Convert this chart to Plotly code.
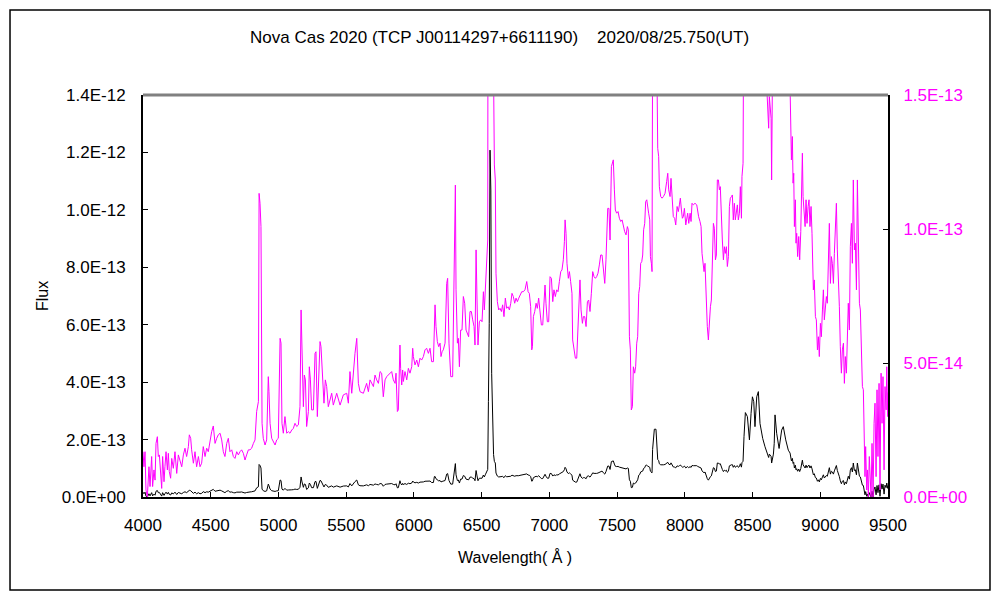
import plotly.graph_objects as go

# ---- data ----
# wavelength in Angstrom
wavelength = [
    4000, 4007, 4015, 4022, 4032, 4044, 4052, 4064, 4071, 4081, 4089, 4096, 4106, 4113, 4121, 4130,
    4138, 4145, 4155, 4162, 4170, 4180, 4187, 4194, 4204, 4212, 4224, 4236, 4249, 4261, 4273, 4286,
    4298, 4310, 4322, 4335, 4342, 4352, 4359, 4372, 4384, 4396, 4409, 4421, 4433, 4445, 4458, 4470,
    4482, 4495, 4507, 4519, 4532, 4544, 4556, 4569, 4581, 4593, 4605, 4618, 4630, 4642, 4655, 4667,
    4679, 4692, 4704, 4716, 4728, 4741, 4753, 4765, 4778, 4790, 4802, 4815, 4827, 4839, 4852, 4857,
    4864, 4871, 4879, 4888, 4901, 4913, 4925, 4930, 4938, 4950, 4962, 4975, 4987, 4999, 5012, 5019,
    5026, 5036, 5048, 5061, 5073, 5085, 5098, 5110, 5122, 5135, 5147, 5159, 5167, 5174, 5184, 5191,
    5199, 5208, 5221, 5228, 5236, 5245, 5258, 5270, 5277, 5287, 5307, 5314, 5324, 5336, 5346, 5356,
    5368, 5381, 5393, 5405, 5430, 5455, 5479, 5504, 5516, 5528, 5541, 5565, 5578, 5590, 5602, 5627,
    5651, 5664, 5676, 5701, 5713, 5725, 5738, 5750, 5762, 5774, 5787, 5799, 5811, 5824, 5836, 5848,
    5861, 5868, 5878, 5885, 5893, 5897, 5902, 5910, 5917, 5922, 5934, 5947, 5959, 5971, 5984, 5991,
    5996, 6008, 6021, 6033, 6045, 6057, 6070, 6082, 6094, 6107, 6119, 6131, 6144, 6151, 6156, 6163,
    6173, 6183, 6193, 6200, 6208, 6217, 6230, 6242, 6249, 6259, 6272, 6286, 6296, 6301, 6306, 6311,
    6321, 6328, 6336, 6345, 6355, 6365, 6375, 6385, 6395, 6404, 6414, 6424, 6434, 6444, 6451, 6459,
    6466, 6473, 6483, 6493, 6503, 6513, 6520, 6527, 6537, 6545, 6550, 6556, 6562, 6568, 6574, 6581,
    6588, 6594, 6601, 6606, 6616, 6626, 6636, 6646, 6655, 6665, 6675, 6685, 6695, 6705, 6715, 6724,
    6734, 6744, 6754, 6764, 6774, 6783, 6796, 6808, 6820, 6833, 6843, 6852, 6862, 6870, 6875, 6882,
    6892, 6902, 6911, 6921, 6931, 6941, 6951, 6961, 6968, 6975, 6985, 6995, 7005, 7015, 7025, 7034,
    7044, 7054, 7064, 7074, 7084, 7093, 7103, 7111, 7116, 7123, 7130, 7140, 7148, 7157, 7167, 7172,
    7182, 7192, 7202, 7212, 7219, 7226, 7234, 7244, 7251, 7261, 7271, 7281, 7290, 7300, 7310, 7320,
    7330, 7340, 7349, 7359, 7369, 7379, 7389, 7399, 7409, 7418, 7431, 7440, 7448, 7458, 7465, 7472,
    7480, 7487, 7497, 7507, 7517, 7527, 7537, 7546, 7556, 7566, 7576, 7583, 7591, 7598, 7605, 7613,
    7620, 7630, 7637, 7645, 7652, 7660, 7667, 7674, 7682, 7689, 7696, 7704, 7711, 7719, 7726, 7733,
    7741, 7746, 7753, 7758, 7762, 7768, 7775, 7787, 7795, 7800, 7807, 7812, 7822, 7832, 7842, 7854,
    7866, 7874, 7881, 7891, 7898, 7906, 7915, 7925, 7933, 7943, 7952, 7960, 7967, 7975, 7982, 7989,
    7997, 8007, 8014, 8021, 8029, 8039, 8046, 8053, 8063, 8075, 8088, 8095, 8102, 8112, 8120, 8127,
    8137, 8142, 8149, 8157, 8162, 8166, 8174, 8181, 8189, 8196, 8203, 8211, 8218, 8226, 8233, 8240,
    8248, 8255, 8262, 8270, 8277, 8285, 8292, 8299, 8307, 8314, 8322, 8329, 8336, 8344, 8351, 8358,
    8366, 8373, 8381, 8388, 8395, 8403, 8410, 8418, 8422, 8430, 8437, 8447, 8462, 8477, 8489, 8499,
    8509, 8518, 8531, 8543, 8555, 8575, 8592, 8604, 8612, 8619, 8624, 8629, 8637, 8641, 8649, 8654,
    8660, 8666, 8678, 8696, 8715, 8727, 8745, 8764, 8777, 8782, 8787, 8794, 8799, 8804, 8809, 8816,
    8821, 8826, 8833, 8841, 8848, 8856, 8863, 8868, 8873, 8880, 8888, 8895, 8902, 8910, 8917, 8924,
    8932, 8939, 8944, 8949, 8956, 8964, 8971, 8979, 8986, 8993, 9001, 9008, 9016, 9023, 9030, 9038,
    9045, 9052, 9060, 9067, 9075, 9082, 9089, 9097, 9104, 9111, 9119, 9126, 9134, 9141, 9148, 9156,
    9163, 9171, 9178, 9185, 9193, 9200, 9207, 9215, 9222, 9230, 9237, 9244, 9252, 9259, 9267, 9274,
    9281, 9289, 9296, 9303, 9311, 9318, 9323, 9330, 9335, 9343, 9348, 9355, 9362, 9370, 9375, 9382,
    9390, 9397, 9404, 9412, 9419, 9426, 9434, 9441, 9449, 9456, 9463, 9471, 9478, 9486, 9491, 9498,
    9500,
]

# flux in units of 1E-14 (same spectrum drawn on both axes)
flux_e14 = [
    1.69, 1.13, 1.69, 0.26, 0.00, 1.13, 0.39, 1.51, 0.39, 1.01, 0.63, 2.00, 2.25, 1.51, 1.57, 1.01,
    0.32, 1.51, 0.57, 1.13, 1.69, 1.01, 1.63, 0.95, 0.70, 1.44, 1.07, 1.69, 0.88, 1.57, 1.32, 1.13,
    1.57, 1.82, 1.51, 1.88, 2.32, 2.19, 1.76, 1.26, 1.69, 1.13, 1.51, 1.13, 1.26, 1.88, 1.51, 1.82,
    1.69, 2.13, 2.44, 2.65, 2.00, 2.19, 2.32, 2.38, 2.13, 1.69, 1.51, 2.00, 2.19, 1.69, 1.76, 1.51,
    1.44, 1.69, 1.57, 1.69, 1.76, 1.63, 1.38, 1.57, 1.76, 1.76, 1.82, 2.00, 2.13, 3.19, 3.56, 11.33,
    10.96, 10.09, 2.75, 2.19, 1.94, 2.13, 4.49, 3.93, 2.75, 2.19, 2.07, 1.94, 2.13, 2.19, 5.92, 5.74,
    2.75, 2.38, 3.00, 2.38, 2.44, 2.38, 2.50, 2.56, 2.75, 2.63, 2.69, 3.37, 6.98, 5.24, 3.37, 4.55,
    4.37, 2.63, 3.19, 4.86, 4.37, 3.25, 3.25, 5.36, 5.42, 3.00, 5.80, 5.61, 4.37, 3.50, 4.37, 4.12,
    3.37, 3.62, 3.87, 3.43, 3.87, 3.43, 3.81, 3.87, 3.50, 4.68, 3.87, 5.36, 5.92, 4.24, 3.93, 3.87,
    4.24, 3.93, 4.37, 4.12, 4.55, 4.37, 4.24, 4.68, 4.62, 3.74, 4.37, 4.49, 4.55, 4.62, 4.68, 4.37,
    4.24, 4.62, 3.19, 3.25, 5.61, 5.67, 4.80, 4.18, 4.74, 4.31, 4.68, 4.37, 4.80, 4.62, 4.86, 5.55,
    5.24, 4.93, 5.11, 4.86, 5.18, 5.11, 5.24, 5.49, 5.55, 5.36, 5.55, 5.05, 5.05, 7.10, 7.17, 6.36,
    5.80, 5.61, 5.74, 5.24, 5.42, 5.49, 5.74, 7.97, 8.16, 5.74, 4.49, 4.49, 8.47, 9.53, 11.64, 7.73,
    5.74, 5.92, 4.86, 6.23, 6.23, 7.48, 7.23, 6.23, 6.05, 5.98, 6.92, 6.92, 6.61, 6.36, 5.67, 9.22,
    7.35, 5.67, 6.54, 6.61, 6.54, 7.66, 6.98, 7.73, 8.72, 9.59, 33.2, 60.5, 120.8, 106.9, 43.1, 19.9,
    14.8, 12.39, 11.83, 8.35, 7.29, 6.98, 7.04, 6.92, 7.17, 6.73, 7.42, 7.04, 7.10, 6.98, 7.23, 7.60,
    7.48, 7.23, 7.42, 7.29, 7.42, 7.54, 7.66, 7.66, 7.73, 8.04, 7.66, 7.60, 7.10, 5.49, 5.61, 6.73,
    6.92, 7.23, 7.04, 7.42, 6.92, 6.42, 6.42, 7.23, 7.91, 7.23, 6.54, 6.54, 8.22, 8.16, 7.29, 7.73,
    7.48, 7.73, 7.66, 8.04, 8.41, 8.47, 8.85, 9.53, 10.34, 9.84, 8.72, 8.16, 8.41, 8.04, 7.60, 5.86,
    5.49, 5.18, 5.18, 6.48, 7.73, 8.10, 6.98, 6.48, 6.73, 6.73, 6.36, 7.29, 7.35, 6.92, 7.60, 8.41,
    8.22, 8.16, 8.22, 8.35, 8.66, 9.03, 9.03, 8.41, 7.97, 8.85, 10.77, 10.77, 9.59, 12.33, 12.52, 12.58,
    11.46, 10.71, 10.59, 10.65, 10.40, 10.28, 10.34, 10.09, 9.90, 9.78, 10.09, 9.97, 5.98, 5.49, 3.25, 3.37,
    4.86, 4.62, 4.86, 5.74, 5.98, 7.60, 7.85, 8.72, 8.78, 9.03, 9.97, 10.21, 11.02, 11.09, 10.77, 10.59,
    10.34, 8.97, 8.72, 8.41, 16.5, 20.0, 23.6, 23.6, 15.5, 13.01, 12.70, 11.58, 11.21, 11.15, 11.21, 11.33,
    11.77, 12.08, 11.46, 11.21, 11.89, 11.21, 10.46, 10.40, 10.15, 10.84, 10.65, 10.90, 11.15, 10.71, 10.40, 10.46,
    10.77, 10.15, 10.40, 10.59, 10.21, 10.59, 10.28, 10.96, 10.90, 10.96, 10.90, 10.65, 10.46, 10.28, 10.09, 9.09,
    8.72, 8.41, 8.72, 7.42, 6.98, 6.36, 5.86, 6.61, 7.10, 7.35, 8.60, 10.21, 10.03, 8.85, 9.03, 11.83,
    11.83, 11.46, 11.58, 10.21, 9.59, 8.85, 9.34, 9.09, 9.34, 8.60, 8.97, 10.84, 11.15, 11.21, 11.27, 10.34,
    10.96, 10.34, 10.65, 10.90, 10.34, 10.59, 11.58, 10.40, 11.96, 12.45, 21.0, 29.4, 28.0, 19.9, 29.1, 34.9,
    33.2, 24.5, 34.9, 36.7, 25.6, 20.4, 17.5, 15.4, 14.69, 13.76, 14.94, 14.44, 14.13, 11.83, 14.07, 14.94,
    18.7, 28.6, 22.2, 16.9, 23.3, 24.5, 19.9, 16.3, 15.3, 12.83, 12.58, 13.45, 11.71, 12.08, 10.09, 11.09,
    9.47, 9.84, 8.97, 9.72, 8.85, 9.90, 11.96, 12.83, 11.21, 10.71, 10.09, 11.09, 10.21, 10.84, 11.09, 10.09,
    10.84, 9.84, 8.97, 7.73, 8.10, 6.73, 6.61, 5.49, 5.98, 5.24, 6.48, 5.98, 6.98, 7.73, 6.61, 7.23,
    7.48, 7.23, 8.97, 10.21, 7.97, 8.97, 8.72, 7.97, 9.09, 10.21, 10.96, 9.22, 8.35, 7.10, 5.61, 4.62,
    5.49, 5.74, 4.24, 5.24, 4.62, 5.98, 7.23, 6.23, 9.34, 10.21, 8.72, 11.83, 9.22, 9.47, 7.73, 11.83,
    8.72, 7.23, 6.98, 5.86, 4.12, 4.00, 2.13, 0.76, 1.88, 0.26, 1.01, 0.01, 1.51, 0.26, 0.01, 2.00,
    0.01, 2.75, 3.50, 0.76, 4.00, 1.51, 4.24, 0.26, 4.62, 2.75, 4.49, 1.01, 4.12, 3.25, 4.86, 3.00,
    3.90,
]

FLUX_UNIT = 1e-14
flux = [v * FLUX_UNIT for v in flux_e14]

x_ticks = [4000, 4500, 5000, 5500, 6000, 6500, 7000, 7500, 8000, 8500, 9000, 9500]
left_ticks = [0, 2e-13, 4e-13, 6e-13, 8e-13, 1.0e-12, 1.2e-12, 1.4e-12]
left_labels = ["0.0E+00", "2.0E-13", "4.0E-13", "6.0E-13", "8.0E-13", "1.0E-12", "1.2E-12", "1.4E-12"]
right_ticks = [0, 5e-14, 1.0e-13, 1.5e-13]
right_labels = ["0.0E+00", "5.0E-14", "1.0E-13", "1.5E-13"]

title_text = "Nova Cas 2020 (TCP J00114297+6611190)\u00a0\u00a0\u00a0\u00a02020/08/25.750(UT)"
x_title = "Wavelength(\u00a0Å\u00a0)"
MAGENTA = "#FF00FF"
FONT = "Liberation Sans"

fig = go.Figure()
fig.add_trace(go.Scatter(x=wavelength, y=flux, mode="lines",
                         line=dict(color=MAGENTA, width=1), yaxis="y2",
                         showlegend=False, hoverinfo="skip"))
fig.add_trace(go.Scatter(x=wavelength, y=flux, mode="lines",
                         line=dict(color="black", width=1), yaxis="y",
                         showlegend=False, hoverinfo="skip"))

fig.update_layout(
    width=992, height=592,
    margin=dict(l=135, r=112, t=87, b=103),
    paper_bgcolor="white", plot_bgcolor="white",
    font=dict(family=FONT, size=17, color="black"),
    xaxis=dict(range=[4000, 9500], tickvals=x_ticks, ticks="inside", ticklen=5,
               tickcolor="black", showline=True, linecolor="black", linewidth=2,
               showgrid=False, zeroline=False, ticklabelstandoff=12,
               tickfont=dict(size=17)),
    yaxis=dict(range=[0, 1.4e-12], tickvals=left_ticks, ticktext=left_labels,
               ticks="inside", ticklen=5, tickcolor="black", showline=True,
               linecolor="black", linewidth=2, showgrid=False, zeroline=False,
               ticklabelstandoff=12, tickfont=dict(size=17)),
    yaxis2=dict(range=[0, 1.5e-13], tickvals=right_ticks, ticktext=right_labels,
                overlaying="y", side="right", ticks="inside", ticklen=5,
                tickcolor="black", showline=True, linecolor="black", linewidth=2,
                showgrid=False, zeroline=False, ticklabelstandoff=10,
                tickfont=dict(size=17, color=MAGENTA)),
    shapes=[
        dict(type="line", xref="paper", yref="paper", x0=0, x1=1, y0=1, y1=1,
             line=dict(color="#808080", width=3)),
        dict(type="rect", xref="paper", yref="paper", x0=-0.1785, x1=1.1369,
             y0=-0.2313, y1=1.2114, line=dict(color="black", width=1.5)),
    ],
    annotations=[
        dict(text=title_text, xref="paper", yref="paper", x=0.479, y=1.1418,
             showarrow=False, font=dict(size=17), xanchor="center", yanchor="middle"),
        dict(text="Flux", xref="paper", yref="paper", x=-0.1356, y=0.5, textangle=-90,
             showarrow=False, font=dict(size=16), xanchor="center", yanchor="middle"),
        dict(text=x_title, xref="paper", yref="paper", x=0.4993, y=-0.149,
             showarrow=False, font=dict(size=16), xanchor="center", yanchor="middle"),
    ],
)

fig.write_html("out.html")
